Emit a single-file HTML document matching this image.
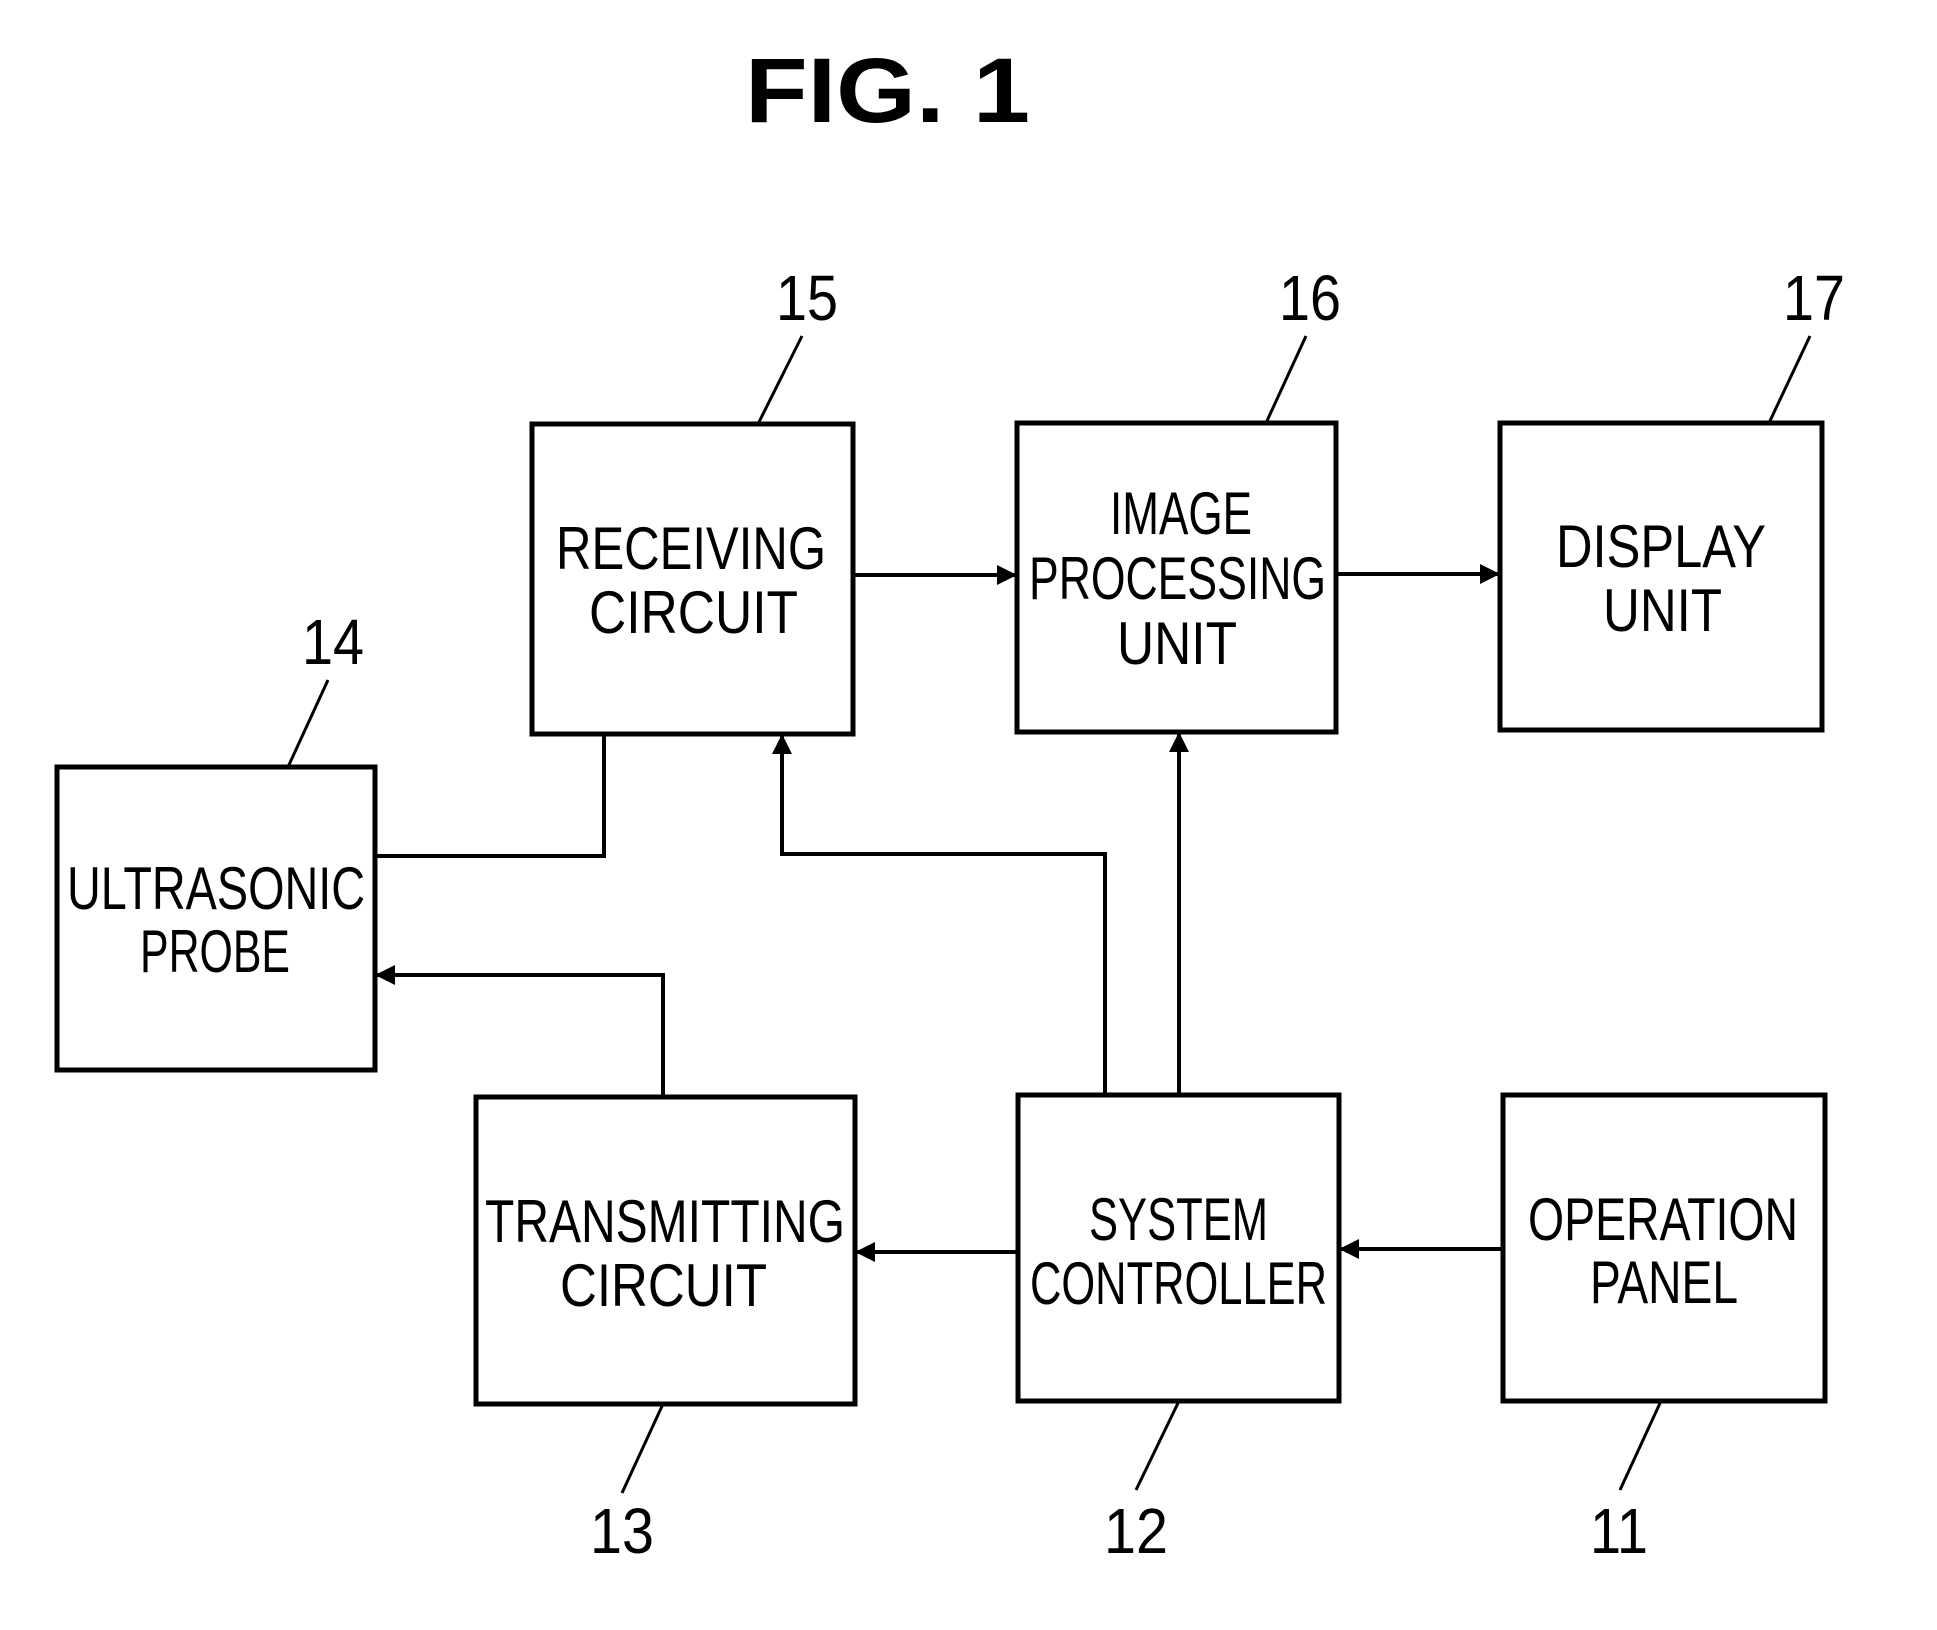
<!DOCTYPE html>
<html><head><style>html,body{margin:0;padding:0;background:#fff}svg{display:block}</style></head>
<body>
<svg width="1937" height="1630" viewBox="0 0 1937 1630" xmlns="http://www.w3.org/2000/svg">
<defs>
<marker id="a" viewBox="0 0 10 10" refX="10" refY="5" markerWidth="8" markerHeight="5" markerUnits="strokeWidth" orient="auto"><path d="M0,0 L10,5 L0,10 z" fill="#000"/></marker>
</defs>
<g font-family="Liberation Sans, sans-serif" fill="#000">
<text x="745" y="122" font-size="92" font-weight="bold" textLength="285" lengthAdjust="spacingAndGlyphs">FIG. 1</text>
</g>
<g fill="none" stroke="#000" stroke-width="5">
<rect x="532" y="424" width="321" height="310"/>
<rect x="1017" y="423" width="319" height="309"/>
<rect x="1500" y="423" width="322" height="307"/>
<rect x="57" y="767" width="318" height="303"/>
<rect x="476" y="1097" width="379" height="307"/>
<rect x="1018" y="1095" width="321" height="306"/>
<rect x="1503" y="1095" width="322" height="306"/>
</g>
<g fill="none" stroke="#000" stroke-width="4">
<line x1="853" y1="575" x2="1017" y2="575" marker-end="url(#a)"/>
<line x1="1336" y1="574" x2="1500" y2="574" marker-end="url(#a)"/>
<polyline points="604,734 604,856 375,856"/>
<polyline points="663,1097 663,975 375,975" marker-end="url(#a)"/>
<polyline points="1105,1095 1105,854 782,854 782,734" marker-end="url(#a)"/>
<line x1="1179" y1="1095" x2="1179" y2="732" marker-end="url(#a)"/>
<line x1="1018" y1="1252" x2="855" y2="1252" marker-end="url(#a)"/>
<line x1="1503" y1="1249" x2="1339" y2="1249" marker-end="url(#a)"/>
</g>
<g stroke="#000" stroke-width="3">
<line x1="802" y1="336" x2="758" y2="424"/>
<line x1="1306" y1="336" x2="1266" y2="423"/>
<line x1="1810" y1="336" x2="1769" y2="423"/>
<line x1="328" y1="680" x2="288" y2="767"/>
<line x1="663" y1="1404" x2="622" y2="1493"/>
<line x1="1179" y1="1401" x2="1136" y2="1490"/>
<line x1="1661" y1="1401" x2="1620" y2="1490"/>
</g>
<g font-family="Liberation Sans, sans-serif" fill="#000" font-size="60" lengthAdjust="spacingAndGlyphs">
<text x="556" y="569" textLength="270" lengthAdjust="spacingAndGlyphs">RECEIVING</text>
<text x="589" y="633" textLength="209" lengthAdjust="spacingAndGlyphs">CIRCUIT</text>
<text x="1110" y="534" textLength="142" lengthAdjust="spacingAndGlyphs">IMAGE</text>
<text x="1029" y="599" textLength="297" lengthAdjust="spacingAndGlyphs">PROCESSING</text>
<text x="1117" y="664" textLength="120" lengthAdjust="spacingAndGlyphs">UNIT</text>
<text x="1556" y="567" textLength="210" lengthAdjust="spacingAndGlyphs">DISPLAY</text>
<text x="1603" y="631" textLength="119" lengthAdjust="spacingAndGlyphs">UNIT</text>
<text x="67" y="909" textLength="298" lengthAdjust="spacingAndGlyphs">ULTRASONIC</text>
<text x="140" y="972" textLength="150" lengthAdjust="spacingAndGlyphs">PROBE</text>
<text x="485" y="1242" textLength="360" lengthAdjust="spacingAndGlyphs">TRANSMITTING</text>
<text x="560" y="1306" textLength="207" lengthAdjust="spacingAndGlyphs">CIRCUIT</text>
<text x="1089" y="1240" textLength="179" lengthAdjust="spacingAndGlyphs">SYSTEM</text>
<text x="1030" y="1304" textLength="297" lengthAdjust="spacingAndGlyphs">CONTROLLER</text>
<text x="1528" y="1240" textLength="270" lengthAdjust="spacingAndGlyphs">OPERATION</text>
<text x="1590" y="1303" textLength="148" lengthAdjust="spacingAndGlyphs">PANEL</text>
</g>
<g font-family="Liberation Sans, sans-serif" fill="#000" font-size="64">
<text x="776" y="320" textLength="62" lengthAdjust="spacingAndGlyphs">15</text>
<text x="1279" y="320" textLength="62" lengthAdjust="spacingAndGlyphs">16</text>
<text x="1783" y="320" textLength="62" lengthAdjust="spacingAndGlyphs">17</text>
<text x="302" y="664" textLength="62" lengthAdjust="spacingAndGlyphs">14</text>
<text x="590" y="1553" textLength="64" lengthAdjust="spacingAndGlyphs">13</text>
<text x="1104" y="1553" textLength="64" lengthAdjust="spacingAndGlyphs">12</text>
<text x="1590" y="1553" textLength="58" lengthAdjust="spacingAndGlyphs">11</text>
</g>
</svg>
</body></html>
